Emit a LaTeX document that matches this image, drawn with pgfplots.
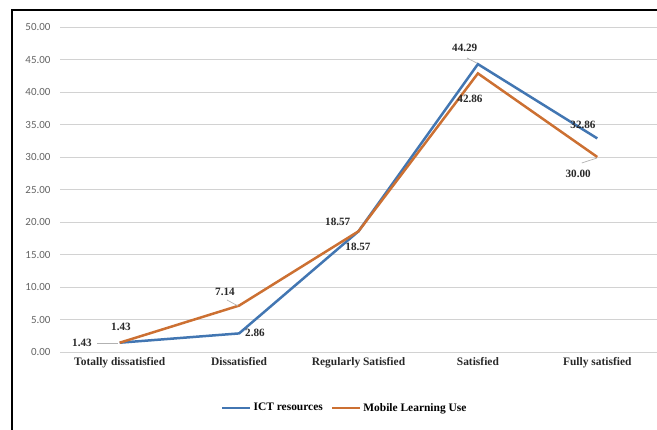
\documentclass[border=0pt]{standalone}
\usepackage{fontspec}
\setmainfont{Liberation Serif}
\newfontfamily\carlito{Carlito}
\usepackage{pgfplots}
\pgfplotsset{compat=1.18}
\definecolor{ictblue}{RGB}{66,118,178}
\definecolor{mlorange}{RGB}{204,112,50}
\definecolor{ticgray}{RGB}{100,100,100}
\definecolor{lblcol}{RGB}{40,40,40}
\begin{document}
\begin{tikzpicture}
\useasboundingbox (0,0) rectangle (657bp,430bp);
\draw[line width=1.6bp, black] (12bp,0bp) -- (12bp,420bp) -- (657bp,420bp);
\begin{axis}[
  at={(60bp,78bp)}, anchor=south west,
  scale only axis, width=597bp, height=325bp,
  xmin=-0.5, xmax=4.5, ymin=0, ymax=50,
  xtick={0,1,2,3,4},
  xticklabels={Totally dissatisfied, Dissatisfied, Regularly Satisfied, Satisfied, Fully satisfied},
  ytick={0,5,...,50},
  axis line style={draw=none},
  major tick length=0pt,
  ymajorgrids, grid style={gray!35, line width=0.9bp},
  yticklabel style={font=\carlito\fontsize{11}{13}\selectfont, color=ticgray, xshift=-6bp},
  xticklabel style={font=\bfseries\fontsize{11.5}{13}\selectfont, color=lblcol, yshift=-2bp},
  /pgf/number format/.cd, fixed, fixed zerofill, precision=2, assume math mode=true, /pgfplots/.cd,
  legend style={at={(0.477,-0.172)}, anchor=center, draw=none, fill=none,
    legend columns=2, font=\bfseries\fontsize{11.5}{13}\selectfont,
    /tikz/every even column/.append style={column sep=6bp}},
  legend image code/.code={\draw[#1, line width=2.5bp] (0bp,0bp) -- (28bp,0bp);},
  clip=false,
]
\addplot[ictblue, line width=2.5bp] coordinates {(0,1.43) (1,2.86) (2,18.57) (3,44.29) (4,32.86)};
\addlegendentry{ICT resources}
\addplot[mlorange, line width=2.5bp] coordinates {(0,1.43) (1,7.14) (2,18.57) (3,42.86) (4,30.00)};
\addlegendentry{Mobile Learning Use}
% leader lines
\draw[gray!60, line width=0.7bp] (axis cs:-0.19,1.38) -- (axis cs:-0.014,1.38);
\draw[gray!60, line width=0.7bp] (axis cs:0.899,8.0) -- (axis cs:0.991,7.08);
\draw[gray!60, line width=0.7bp] (axis cs:2.909,45.23) -- (axis cs:2.99,44.46);
\draw[gray!60, line width=0.7bp] (axis cs:3.87,29.08) -- (axis cs:3.998,29.85);
% data labels
\begin{scope}[every node/.style={font=\bfseries\fontsize{11.2}{13}\selectfont, text=lblcol, inner sep=0pt}]
\node at (axis cs:-0.316,1.38) {1.43};
\node at (axis cs:0.011,3.85) {1.43};
\node at (axis cs:0.882,9.23) {7.14};
\node at (axis cs:1.133,2.92) {2.86};
\node at (axis cs:1.826,20.0) {18.57};
\node at (axis cs:1.996,16.15) {18.57};
\node at (axis cs:2.89,46.77) {44.29};
\node at (axis cs:2.934,38.9) {42.86};
\node at (axis cs:3.88,34.9) {32.86};
\node at (axis cs:3.84,27.4) {30.00};
\end{scope}
\end{axis}
\end{tikzpicture}
\end{document}
